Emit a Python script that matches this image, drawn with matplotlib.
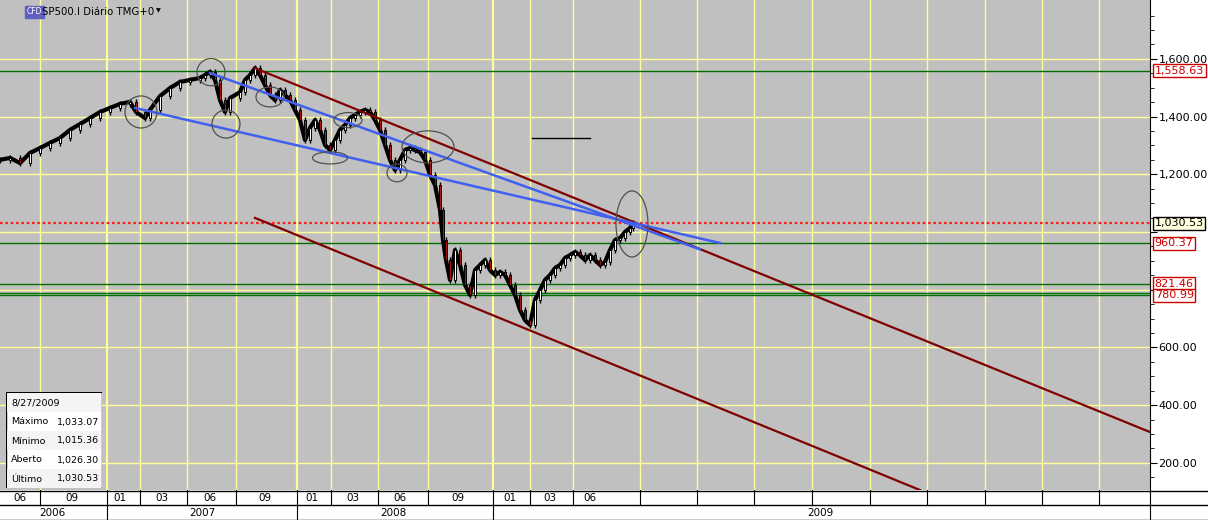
import matplotlib
matplotlib.use("Agg")
import matplotlib.pyplot as plt
from matplotlib.patches import Ellipse, Rectangle
import numpy as np

# ---------------- data ----------------
x_pos = [0,10,20,30,40,50,60,70,80,90,100,110,120,130,136,145,150,160,170,180,190,200,
         205,210,215,220,225,230] + list(range(240, 441, 5)) + [443,446,450] + list(range(455, 631, 5)) + [633]
closes = [1250,1257,1239,1274,1291,1309,1326,1354,1374,1395,1416,1430,1444,1451,1416,1395,
          1423,1471,1499,1520,1527,1534,1544,1555,1527,1457,1416,1464,
          1485,1527,1544,1568,1544,1509,1475,1457,1492,1475,1457,1423,1388,1319,1361,1388,1354,
          1302,1284,1319,1354,1371,1395,1406,1416,1423,1416,1388,1354,1302,1250,1215,1250,1284,
          1291,1284,1277,1250,1198,1163,1076,
          972,903,834,
          938,886,817,782,868,886,903,868,851,862,851,817,782,730,695,678,765,799,834,851,875,
          886,910,920,931,920,903,920,903,886,896,938,972,979,1000,1014,
          1030]
support_levels = [1558.63, 960.37, 821.46, 790.0, 780.99]
last_price = 1030.53
red_channel = [((255, 1568), (1150, 307)), ((255, 1049), (920, 106))]
blue_lines = [((210, 1551), (700, 940)), ((135, 1430), (720, 962))]
short_line = ((532, 1326), (590, 1326))
ellipses = [(141, 1416, 32, 111), (211, 1554, 28, 94), (226, 1374, 28, 97), (270, 1468, 28, 69),
            (348, 1388, 28, 52), (330, 1257, 35, 42), (397, 1205, 20, 62), (428, 1295, 52, 111),
            (632, 1028, 32, 229)]
y_ticks = [200, 400, 600, 800, 1000, 1200, 1400, 1600]
y_tick_labels = ["200.00", "400.00", "600.00", "", "", "1,200.00", "1,400.00", "1,600.00"]
box_labels = [("1,558.63", 1558.63), ("960.37", 960.37), ("821.46", 821.46), ("780.99", 780.99)]
month_seps = [40,107,140,187,236,297,331,378,428,493,530,573,640,697,754,812,870,927,985,1042,1099,1150]
month_labels = [(20,"06"),(72,"09"),(120,"01"),(162,"03"),(210,"06"),(265,"09"),(312,"01"),
                (353,"03"),(400,"06"),(458,"09"),(510,"01"),(550,"03"),(590,"06")]
year_seps = [107, 297, 493]
year_labels = [(52,"2006"),(202,"2007"),(393,"2008"),(820,"2009")]
info_rows = [("8/27/2009",""),("Máximo","1,033.07"),("Mínimo","1,015.36"),("Aberto","1,026.30"),("Último","1,030.53")]

W, H = 1208, 520
fig = plt.figure(figsize=(W/100, H/100), dpi=100)
fig.patch.set_facecolor("white")
ax = fig.add_axes([0, 30/H, 1150/W, 490/H])
ax.set_facecolor("#c0c0c0")
ax.set_xlim(0, 1150)
ymin, ymax = 106.2, 1804
ax.set_ylim(ymin, ymax)

ygrid = "#ffff99"
for s in month_seps[:-1]:
    ax.axvline(s, color=ygrid, lw=1.6 if s in year_seps else 1.0, zorder=1)
for t in y_ticks:
    ax.axhline(t, color=ygrid, lw=1.0, zorder=1)
for lv in support_levels:
    ax.axhline(lv, color="#007000", lw=1.0, zorder=2)
ax.axhline(last_price, color="#ff2020", lw=1.6, ls=(0, (1.2, 1.2)), zorder=2)

# candles
ax.plot(x_pos, closes, color="black", lw=3.0, zorder=3, solid_joinstyle="round")
opens = [closes[0]] + closes[:-1]
for i, (xx, o, c) in enumerate(zip(x_pos, opens, closes)):
    hi = max(o, c) + 10
    lo = min(o, c) - 10
    ax.vlines(xx, lo, hi, color="black", lw=1.0, zorder=4)
    col = "white" if c >= o else "#b01010"
    bot = min(o, c)
    h = max(abs(c - o), 4)
    ax.bar(xx, h, bottom=bot, width=2.6, color=col, edgecolor="black", lw=0.7, zorder=5)

for (a, b) in red_channel:
    ax.plot([a[0], b[0]], [a[1], b[1]], color="#800000", lw=1.6, zorder=6)
for (a, b) in blue_lines:
    ax.plot([a[0], b[0]], [a[1], b[1]], color="#4060f0", lw=1.8, zorder=6)
ax.plot([short_line[0][0], short_line[1][0]], [short_line[0][1], short_line[1][1]], color="black", lw=1.0, zorder=6)
for (ex, ey, ew, eh) in ellipses:
    ax.add_patch(Ellipse((ex, ey), ew, eh, fill=False, edgecolor="#505050", lw=0.9, zorder=7))

ax.yaxis.tick_right()
ax.set_yticks(y_ticks)
ax.set_yticklabels(y_tick_labels, fontsize=8, family="DejaVu Sans")
ax.set_yticks(np.arange(150, 1800, 50), minor=True)
ax.tick_params(axis="y", which="major", length=5, pad=1, direction="out")
ax.tick_params(axis="y", which="minor", length=3, direction="out")
ax.set_xticks([])
for sp in ["top", "left", "bottom"]:
    ax.spines[sp].set_visible(False)
ax.spines["right"].set_color("black")

for txt, v in box_labels:
    ax.text(1.004, v, txt, transform=ax.get_yaxis_transform(), fontsize=8, color="#cc0000",
            va="center", ha="left", bbox=dict(boxstyle="square,pad=0.15", fc="white", ec="#cc0000", lw=1), zorder=10, clip_on=False)
ax.text(1.004, last_price, "1,030.53", transform=ax.get_yaxis_transform(), fontsize=8, color="black",
        va="center", ha="left", bbox=dict(boxstyle="square,pad=0.15", fc="#ffffe0", ec="black", lw=1), zorder=10, clip_on=False)

# header
fig.text(27/W, 1 - 12/H, "CFD", fontsize=5.5, color="white", va="center", ha="left",
         bbox=dict(boxstyle="square,pad=0.2", fc="#6060c0", ec="#6060c0"))
fig.text(42/W, 1 - 12/H, "SP500.I Diário TMG+0", fontsize=7.3, va="center", ha="left")
fig.text(156/W, 1 - 11/H, "▼", fontsize=4.5, va="center", ha="left")

# info box
ib = fig.add_axes([6/W, 30/H + (490-488)/H, 96/W, 96/H])
ib.set_xlim(0, 96); ib.set_ylim(96, 0); ib.axis("off")
ib.add_patch(Rectangle((0, 0), 96, 96, fc="white", ec="black", lw=1))
for i, (k, v) in enumerate(info_rows):
    y0 = 2 + i * 19
    if i % 2 == 0:
        ib.add_patch(Rectangle((1, y0 - 1), 94, 19, fc="#f4f4f4", ec="none"))
    ib.text(5, y0 + 9, k, fontsize=6.8, va="center")
    if v:
        ib.text(93, y0 + 9, v, fontsize=6.8, va="center", ha="right")

# bottom axis
bx = fig.add_axes([0, 0, 1, 30/H])
bx.set_xlim(0, W); bx.set_ylim(30, 0); bx.axis("off")
bx.add_patch(Rectangle((0, 0), W, 30, fc="white", ec="none"))
bx.plot([0, W], [0.5, 0.5], color="black", lw=1)
bx.plot([0, W], [15, 15], color="black", lw=1)
bx.plot([0, W], [29.5, 29.5], color="black", lw=1)
for s in month_seps:
    bx.plot([s, s], [0, 15], color="black", lw=0.8)
for s in year_seps + [1150]:
    bx.plot([s, s], [15, 30], color="black", lw=0.8)
for xx, t in month_labels:
    bx.text(xx, 8, t, fontsize=7.5, ha="center", va="center")
for xx, t in year_labels:
    bx.text(xx, 22.5, t, fontsize=7.5, ha="center", va="center")

fig.savefig("out.png", dpi=100)
